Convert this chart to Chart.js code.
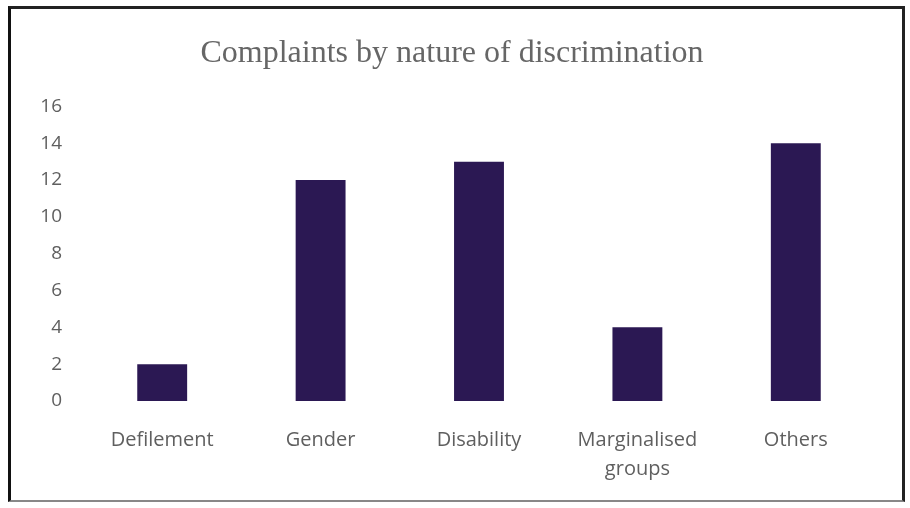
<!DOCTYPE html>
<html>
<head>
<meta charset="utf-8">
<script src="https://cdn.jsdelivr.net/npm/chart.js@4.4.0/dist/chart.umd.min.js"></script>
<style>
    html, body { margin: 0; padding: 0; background: #fff; }
    #frame {
        position: absolute;
        left: 8px;
        top: 6px;
        width: 891px;
        height: 491px;
        border-left: 3px solid #111;
        border-top: 3px solid #222;
        border-right: 3px solid #222;
        border-bottom: 2px solid #888;
    }
    canvas { display: block; }
</style>
</head>
<body>
<div id="frame"><canvas id="complaintsChart" width="891" height="491"></canvas></div>
<script>
// Data
const categories = ['Defilement', 'Gender', 'Disability', ['Marginalised', 'groups'], 'Others'];
const complaints = [2, 12, 13, 4, 14];
const yTicks = [0, 2, 4, 6, 8, 10, 12, 14, 16];

const labelGrey = '#5f5f5f';

// Chart
const ctx = document.getElementById('complaintsChart').getContext('2d');
const complaintsChart = new Chart(ctx, {
    type: 'bar',
    data: {
        labels: categories,
        datasets: [{
            label: 'Complaints',
            data: complaints,
            backgroundColor: '#2b1853',
            borderWidth: 0,
            barPercentage: 1,
            categoryPercentage: 0.315
        }]
    },
    options: {
        responsive: false,
        animation: false,
        layout: {
            padding: { left: 18, right: 27, top: 0, bottom: 0 }
        },
        plugins: {
            legend: { display: false },
            tooltip: { enabled: false },
            title: {
                display: true,
                text: 'Complaints by nature of discrimination',
                color: '#666',
                font: { family: '"Liberation Serif", "DejaVu Serif", serif', size: 32, weight: 'normal' },
                padding: { top: 25, bottom: 34 }
            }
        },
        scales: {
            x: {
                grid: { display: false, drawTicks: false },
                border: { display: false },
                ticks: {
                    color: labelGrey,
                    padding: 25,
                    maxRotation: 0,
                    autoSkip: false,
                    font: { family: '"Open Sans", sans-serif', size: 20, lineHeight: 1.45 }
                },
                afterFit: (scale) => { scale.height = 99; }
            },
            y: {
                min: yTicks[0],
                max: yTicks[yTicks.length - 1],
                grid: { display: false, drawTicks: false },
                border: { display: false },
                afterBuildTicks: (scale) => { scale.ticks = yTicks.map(v => ({ value: v })); },
                ticks: {
                    color: labelGrey,
                    padding: 21,
                    font: { family: '"Open Sans", sans-serif', size: 19 }
                },
                afterFit: (scale) => { scale.width = 54; }
            }
        }
    }
});
</script>
</body>
</html>
